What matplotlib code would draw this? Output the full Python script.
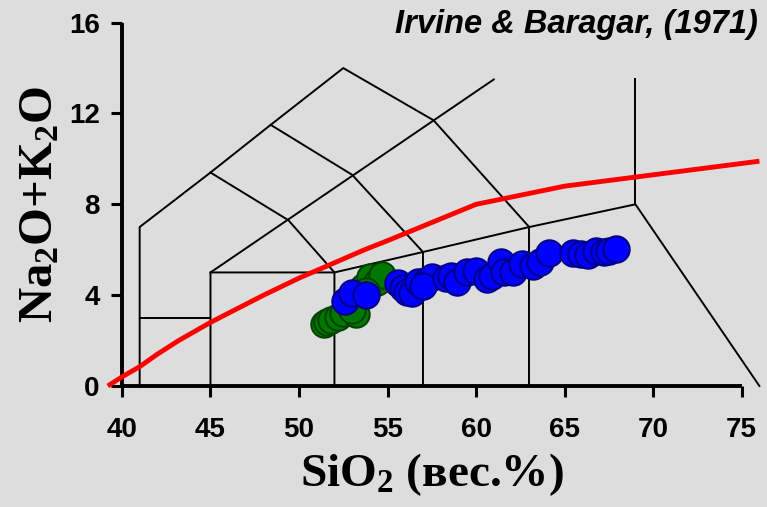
import matplotlib
matplotlib.use("Agg")
import matplotlib.pyplot as plt

plt.rcParams['mathtext.fontset'] = 'custom'
plt.rcParams['mathtext.rm'] = 'Liberation Serif:bold'
plt.rcParams['mathtext.bf'] = 'Liberation Serif:bold'
plt.rcParams['mathtext.default'] = 'regular'

BG = '#dddddd'

# TAS field boundaries (Le Bas et al.), each a polyline of (SiO2, Na2O+K2O)
tas_lines = [
    [(41, 0), (41, 7), (45, 9.4), (48.4, 11.5), (52.5, 14), (57.6, 11.7), (63, 7), (69, 8), (76, 0)],
    [(41, 3), (45, 3)],
    [(45, 0), (45, 5), (61, 13.5)],
    [(45, 5), (52, 5), (57, 5.9), (63, 7)],
    [(45, 9.4), (49.4, 7.3), (52, 5), (52, 0)],
    [(48.4, 11.5), (53, 9.3), (57, 5.9), (57, 0)],
    [(63, 7), (63, 0)],
    [(69, 8), (69, 13.5)],
]

# alkaline / subalkaline divide
ib_sio2 = [39.2, 40, 41, 42, 43.2, 45, 48, 50, 53.7, 55, 60, 65, 76]
ib_alk = [0, 0.4, 0.85, 1.4, 2.0, 2.8, 4.0, 4.75, 6.0, 6.4, 8.0, 8.8, 9.9]

# samples
green_sio2 = [51.4, 51.6, 51.8, 52.2, 52.5, 52.9, 53.2, 53.0, 53.6, 54.0, 54.4, 54.7, 53.8]
green_alk = [2.75, 2.8, 2.9, 3.05, 3.2, 3.5, 3.15, 3.35, 4.35, 4.8, 4.6, 4.9, 4.2]

blue_sio2 = [52.6, 53.0, 53.8, 55.6, 55.9, 56.1, 56.4, 56.7, 57.2, 57.5, 57.0, 58.3,
             58.6, 58.9, 59.5, 60.0, 60.6, 60.9, 61.4, 61.6, 62.1, 62.6, 63.2, 63.6,
             64.1, 65.5, 65.9, 66.3, 66.8, 67.2, 67.5, 67.9]
blue_alk = [3.75, 4.1, 4.0, 4.55, 4.3, 4.15, 4.1, 4.6, 4.65, 4.8, 4.4, 4.75,
            4.85, 4.6, 5.0, 5.05, 4.7, 4.85, 5.45, 5.0, 5.0, 5.35, 5.3, 5.45,
            5.85, 5.85, 5.8, 5.75, 5.95, 5.9, 5.95, 6.05]

x_ticks = [40, 45, 50, 55, 60, 65, 70, 75]
y_ticks = [0, 4, 8, 12, 16]

fig = plt.figure(figsize=(7.67, 5.07), dpi=100, facecolor=BG)
ax = fig.add_axes([0.159, 0.2387, 0.808, 0.7166])
ax.set_facecolor(BG)

for line in tas_lines:
    xs = [p[0] for p in line]
    ys = [p[1] for p in line]
    ax.plot(xs, ys, color='black', lw=1.4, clip_on=False, zorder=2)

ax.plot(ib_sio2, ib_alk, color='#ff0000', lw=3.5, clip_on=False, zorder=3,
        solid_capstyle='butt')

ax.scatter(green_sio2, green_alk, s=360, c='#007800', edgecolors='#004400',
           linewidths=1.5, zorder=4)
ax.scatter(blue_sio2, blue_alk, s=360, c='#0000ff', edgecolors='#000088',
           linewidths=1.5, zorder=5)

ax.set_xlim(40, 75)
ax.set_ylim(0, 16)
ax.set_xticks(x_ticks)
ax.set_yticks(y_ticks)

for side in ['top', 'right']:
    ax.spines[side].set_visible(False)
for side in ['left', 'bottom']:
    ax.spines[side].set_linewidth(2.8)
    ax.spines[side].set_capstyle('butt')

ax.tick_params(axis='x', direction='out', length=8, width=2.2, pad=14)
ax.tick_params(axis='y', direction='out', length=8, width=2.2, pad=8)
for lbl in ax.get_xticklabels() + ax.get_yticklabels():
    lbl.set_fontfamily('Liberation Sans')
    lbl.set_fontweight('bold')
    lbl.set_fontsize(20)

ax.set_xlabel('SiO$_2$ (вес.%)', fontfamily='Liberation Serif', fontweight='bold',
              fontsize=34, labelpad=6)
ax.set_ylabel('Na$_2$O+K$_2$O', fontfamily='Liberation Serif', fontweight='bold',
              fontsize=35, labelpad=5)

fig.text(758 / 767, 0.935, 'Irvine & Baragar, (1971)', ha='right', va='baseline',
         fontfamily='Liberation Sans', fontweight='bold', fontstyle='italic',
         fontsize=23.5)

fig.savefig('out.png', dpi=100, facecolor=BG)
